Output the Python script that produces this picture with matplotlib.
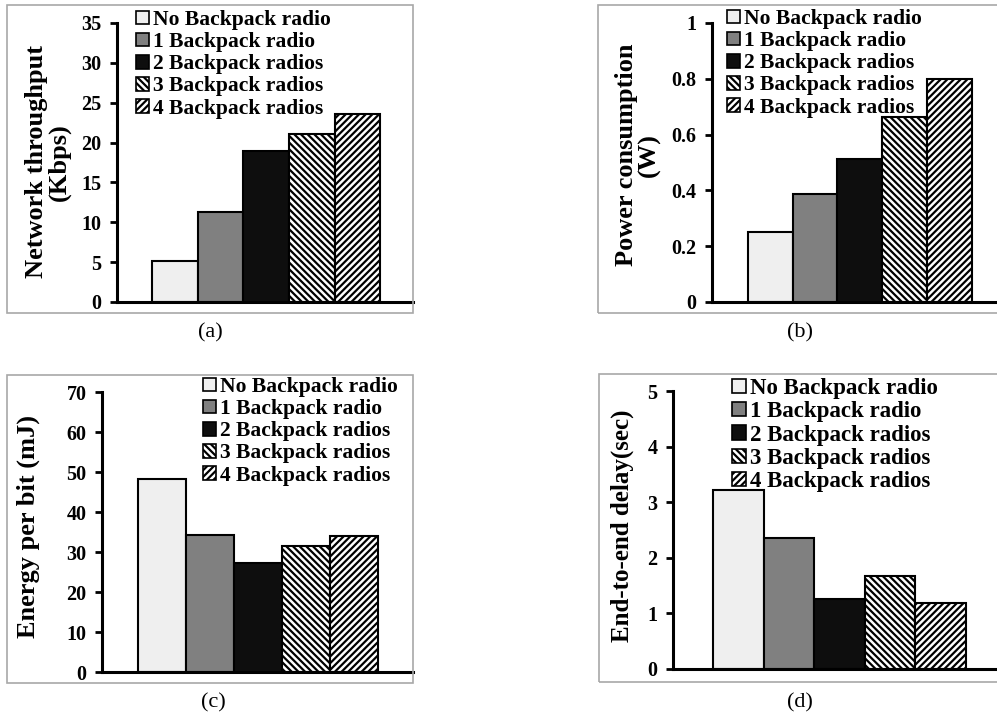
import matplotlib.pyplot as plt
from matplotlib.patches import Rectangle

plt.rcParams['font.family'] = ['Liberation Serif', 'DejaVu Serif']
plt.rcParams['hatch.linewidth'] = 1.6

series = ['No Backpack radio', '1 Backpack radio', '2 Backpack radios',
          '3 Backpack radios', '4 Backpack radios']

throughput = [5.1, 11.3, 19.0, 21.1, 23.6]
power = [0.25, 0.387, 0.513, 0.662, 0.798]
energy = [48.3, 34.3, 27.2, 31.6, 33.9]
delay = [3.22, 2.36, 1.26, 1.68, 1.18]

y_ticks_a = [0, 5, 10, 15, 20, 25, 30, 35]
y_ticks_b = [0, 0.2, 0.4, 0.6, 0.8, 1]
y_ticks_c = [0, 10, 20, 30, 40, 50, 60, 70]
y_ticks_d = [0, 1, 2, 3, 4, 5]
y_labels_b = ['0', '0.2', '0.4', '0.6', '0.8', '1']

colors = ['#efefef', '#808080', '#0e0e0e', 'white', 'white']
hatches = [None, None, None, '\\\\\\\\\\', '/////']

W, H = 997, 715
fig = plt.figure(figsize=(W / 100, H / 100), dpi=100)


def px_axes(x0, x1, ytop, ybot):
    return fig.add_axes([x0 / W, 1 - ybot / H, (x1 - x0) / W, (ybot - ytop) / H])


def panel(box, axbox, xlim, values, ticks, ticklabels, ylabel, ylab_xy, ylab_size,
          leg_xy, leg_size, leg_space, caption, cap_xy):
    # grey frame around each panel
    bx0, by0, bx1, by1 = box
    fig.patches.append(Rectangle((bx0 / W, 1 - by1 / H), (bx1 - bx0) / W, (by1 - by0) / H,
                                 transform=fig.transFigure, fill=False,
                                 edgecolor='#a8a8a8', linewidth=1.2))
    ax = px_axes(*axbox)
    for i, v in enumerate(values):
        ax.bar(i, v, width=1.0, color=colors[i], hatch=hatches[i],
               edgecolor='black', linewidth=1.5, label=series[i], zorder=2)
    ax.set_xlim(*xlim)
    ax.set_ylim(ticks[0], ticks[-1])
    ax.set_yticks(ticks)
    ax.set_yticklabels(ticklabels, fontsize=14.5, fontweight='bold')
    ax.set_xticks([])
    for s in ['top', 'right']:
        ax.spines[s].set_visible(False)
    for s in ['left', 'bottom']:
        ax.spines[s].set_linewidth(2.2)
    ax.tick_params(axis='y', direction='out', length=5, width=2, pad=6)
    ax.patch.set_alpha(0)

    fig.text(ylab_xy[0] / W, 1 - ylab_xy[1] / H, ylabel, rotation=90,
             ha='center', va='center', fontsize=ylab_size, fontweight='bold',
             multialignment='center', linespacing=1.0)

    leg = ax.legend(loc='upper left', bbox_to_anchor=(leg_xy[0] / W, 1 - leg_xy[1] / H),
                    bbox_transform=fig.transFigure, frameon=False, borderpad=0,
                    borderaxespad=0, handlelength=0.6, handleheight=0.6,
                    handletextpad=0.2, labelspacing=leg_space,
                    prop={'size': leg_size, 'weight': 'bold'})
    for h in leg.legend_handles:
        h.set_linewidth(1.2)

    fig.text(cap_xy[0] / W, 1 - cap_xy[1] / H, caption, ha='center', va='center',
             fontsize=16)
    return ax


panel((7, 5, 413, 313), (117, 413, 23, 302), (-1.27, 5.22), throughput,
      y_ticks_a, [str(t) for t in y_ticks_a], 'Network throughput\n(Kbps)',
      (48, 162), 19, (136, 10), 15.5, 0.1, '(a)', (210, 333))

panel((598, 5, 1010, 313), (712, 1000, 23, 302), (-1.30, 5.13), power,
      y_ticks_b, y_labels_b, 'Power consumption\n(W)',
      (638, 155), 19, (727, 9), 15.5, 0.1, '(b)', (800, 333))

panel((7, 375, 413, 683), (102, 413, 392, 672), (-1.25, 5.23), energy,
      y_ticks_c, [str(t) for t in y_ticks_c], 'Energy per bit (mJ)',
      (28, 526), 19, (203, 377), 15.5, 0.1, '(c)', (213, 703))

panel((599, 374, 1010, 682), (673, 1000, 391, 669), (-1.29, 5.17), delay,
      y_ticks_d, [str(t) for t in y_ticks_d], 'End-to-end delay(sec)',
      (622, 526), 18, (732, 378), 16.5, 0.1, '(d)', (800, 703))

fig.savefig('out.png', dpi=100)
